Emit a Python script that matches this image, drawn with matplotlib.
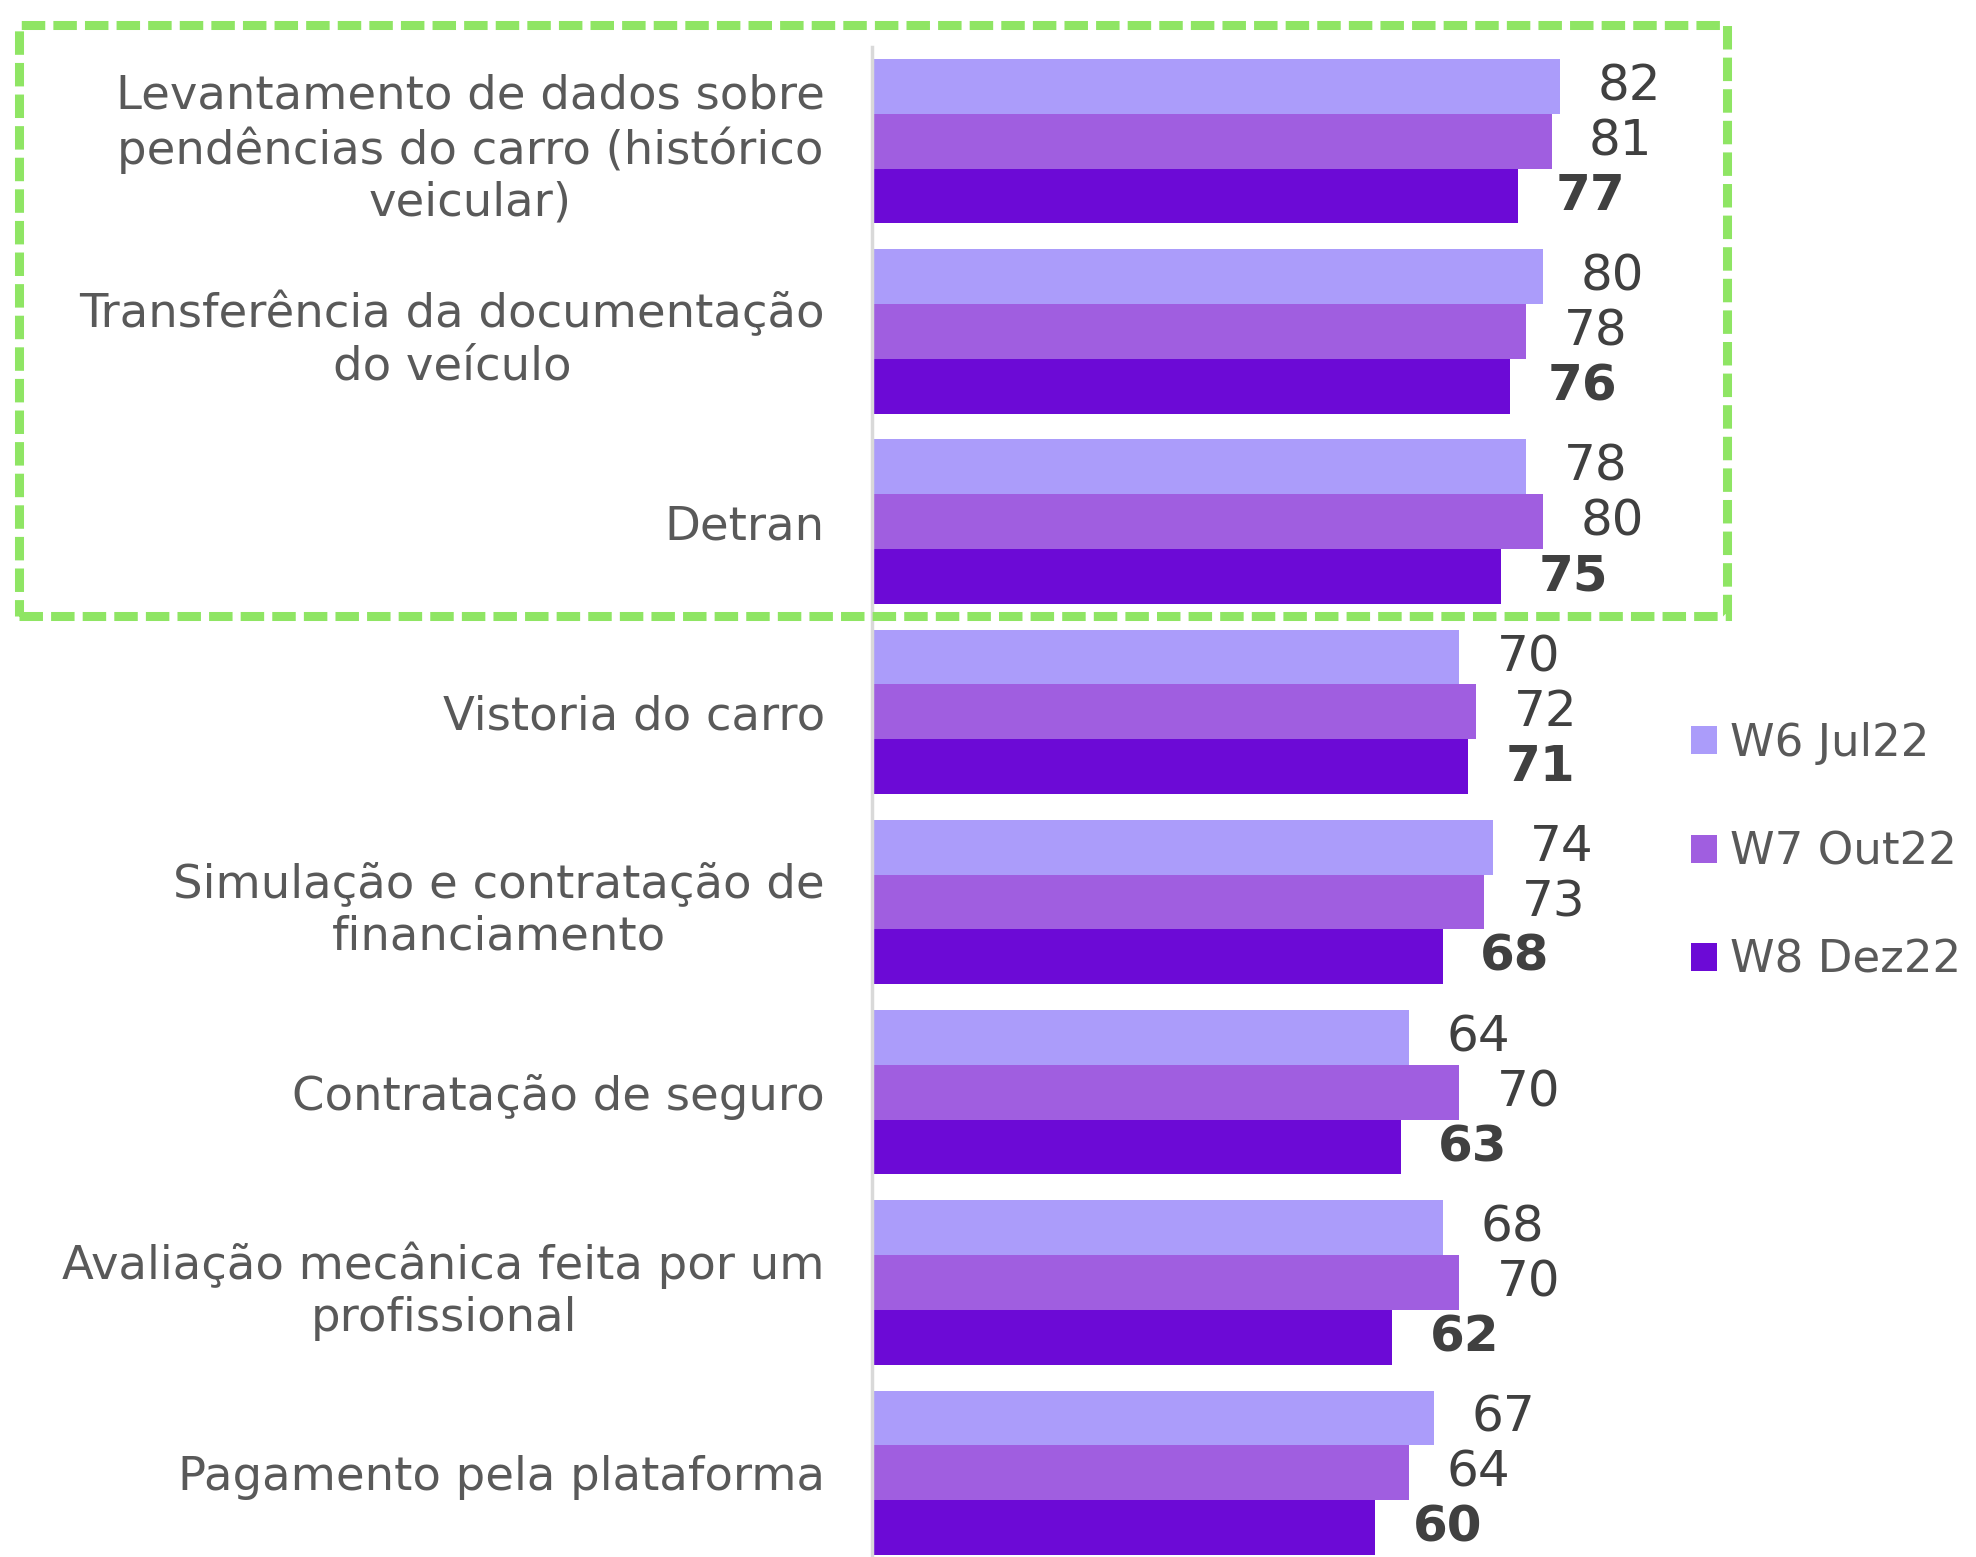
import matplotlib.pyplot as plt
from matplotlib.patches import Rectangle
import numpy as np

# Dados
categorias = [
    "Levantamento de dados sobre\npendências do carro (histórico\nveicular)",
    "Transferência da documentação\ndo veículo",
    "Detran",
    "Vistoria do carro",
    "Simulação e contratação de\nfinanciamento",
    "Contratação de seguro",
    "Avaliação mecânica feita por um\nprofissional",
    "Pagamento pela plataforma",
]
w6_jul22 = [82, 80, 78, 70, 74, 64, 68, 67]
w7_out22 = [81, 78, 80, 72, 73, 70, 70, 64]
w8_dez22 = [77, 76, 75, 71, 68, 63, 62, 60]
series_labels = ["W6 Jul22", "W7 Out22", "W8 Dez22"]

cores = ["#ab9cfa", "#a05ee0", "#6c0ad6"]
texto_cor = "#595959"
valor_cor = "#404040"

W, H = 1976, 1557
fig = plt.figure(figsize=(W / 100, H / 100), dpi=100)
ax = fig.add_axes([872 / W, 0, 839 / W, (H - 47) / H])

y = np.arange(len(categorias))
h = 0.288
series = [w6_jul22, w7_out22, w8_dez22]
for k, (vals, cor, lab) in enumerate(zip(series, cores, series_labels)):
    pos = y + (k - 1) * h
    ax.barh(pos, vals, height=h, color=cor, label=lab)
    for p, v in zip(pos, vals):
        ax.annotate(str(v), (v, p), xytext=(27, 0), textcoords="offset points",
                    ha="left", va="center", fontsize=36, color=valor_cor,
                    fontweight="bold" if k == 2 else "normal")

ax.set_xlim(0, 100)
ax.set_ylim(7.443, -0.495)
ax.set_xticks([])
ax.set_yticks(y)
ax.set_yticklabels(categorias, fontsize=33.5, color=texto_cor,
                   multialignment="center", linespacing=1.2)
ax.tick_params(axis="y", length=0, pad=34)
for s in ["top", "right", "bottom"]:
    ax.spines[s].set_visible(False)
ax.spines["left"].set_color("#d9d9d9")
ax.spines["left"].set_linewidth(2.5)

leg = ax.legend(loc="center left", bbox_to_anchor=(1668 / W, 1 - 852 / H),
                bbox_transform=fig.transFigure, frameon=False, fontsize=32.5,
                handlelength=0.58, handleheight=0.58, handletextpad=0.3,
                labelspacing=1.45, borderpad=0)
for t in leg.get_texts():
    t.set_color(texto_cor)

# caixa tracejada verde
caixa = Rectangle((19 / W, 1 - 616 / H), (1727 - 19) / W, (616 - 25) / H,
                  transform=fig.transFigure, fill=False, edgecolor="#8fe564",
                  linewidth=6.5, linestyle=(0, (2.6, 0.9)), clip_on=False)
fig.patches.append(caixa)

fig.savefig("out.png", dpi=100)
